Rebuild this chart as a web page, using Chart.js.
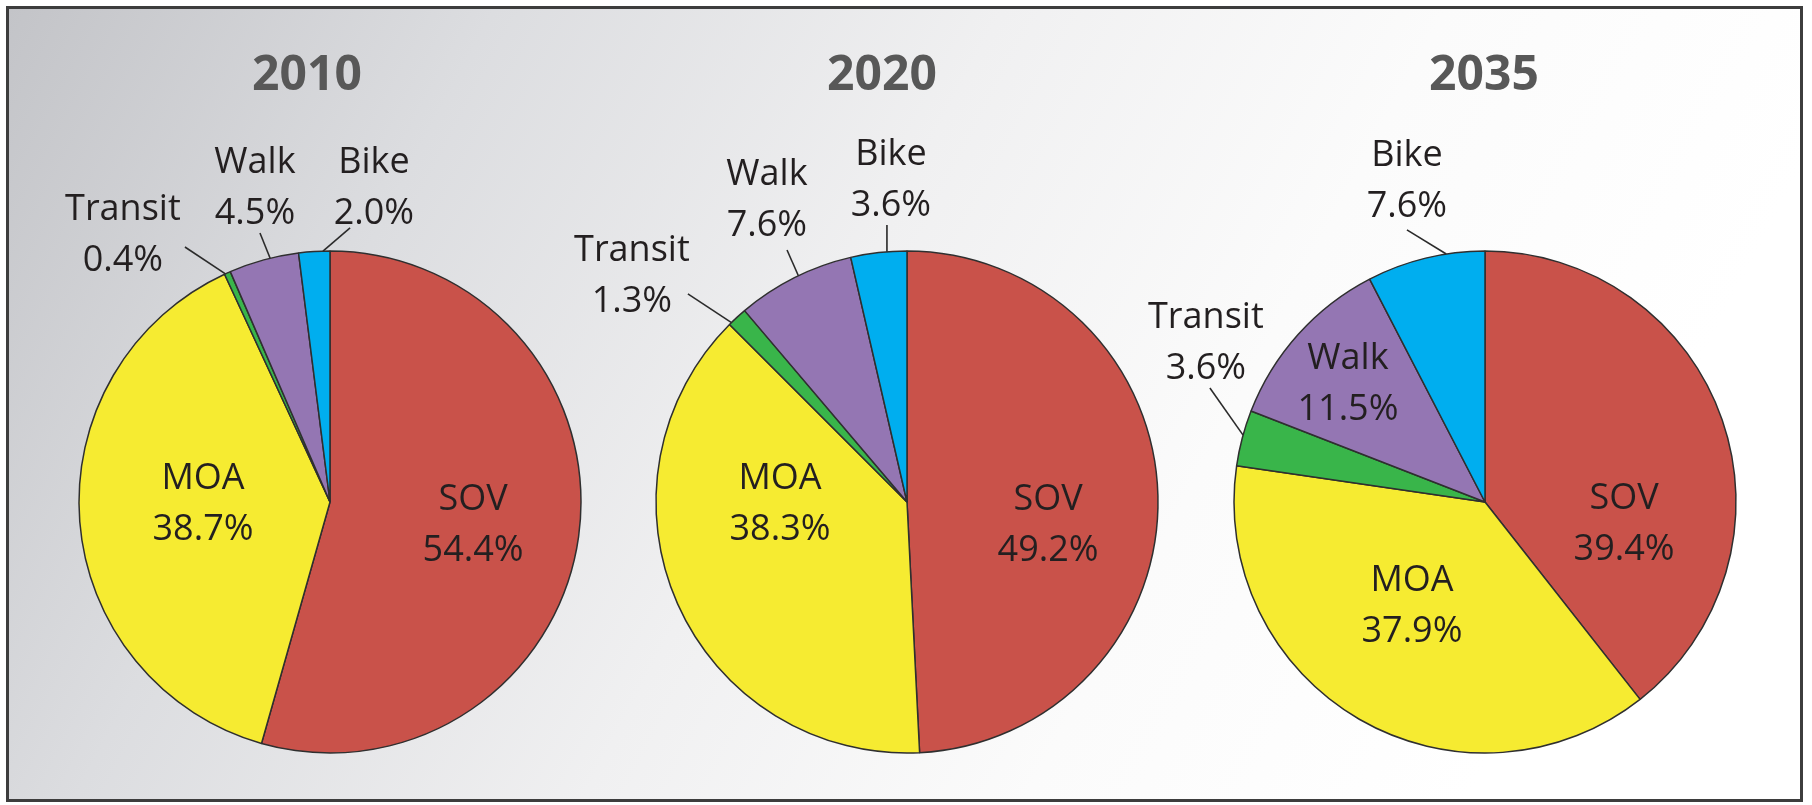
<!DOCTYPE html>
<html>
<head>
<meta charset="utf-8">
<script src="https://cdn.jsdelivr.net/npm/chart.js@4"></script>
<style>
    body
    {
        margin: 0;
        width: 1812px;
        height: 805px;
        background: #ffffff;
        overflow: hidden;
        position: relative;
    }
    #rahmen
    {
        position: absolute;
        left: 6px;
        top: 6px;
        width: 1797px;
        height: 796px;
        box-sizing: border-box;
        border: 3px solid #3d3d3d;
        background: linear-gradient(118deg, #c3c4c8 0%, #dcdde0 22%, #f0f0f1 45%, #fbfbfb 65%, #ffffff 85%);
    }
    canvas
    {
        position: absolute;
        top: 0;
    }
</style>
</head>
<body>
<div id="rahmen"></div>
<canvas id="pie2010" width="720" height="805" style="left:-30px"></canvas>
<canvas id="pie2020" width="720" height="805" style="left:547px"></canvas>
<canvas id="pie2035" width="720" height="805" style="left:1125px"></canvas>

<script>
const modes = ['SOV', 'MOA', 'Transit', 'Walk', 'Bike'];
const years = ['2010', '2020', '2035'];

const share2010 = [54.4, 38.7, 0.4, 4.5, 2.0];
const share2020 = [49.2, 38.3, 1.3, 7.6, 3.6];
const share2035 = [39.4, 37.9, 3.6, 11.5, 7.6];

const modeColors = ['#c9524a', '#f6eb31', '#39b54a', '#9476b3', '#00aeef'];

// label placement, in units of the pie radius, relative to the pie centre
// lx/ly = middle of the two text lines, sx/sy = start of the leader line, ea = shift of the leader end (deg)
const labelLayout =
{
    '2010':
    [
        { lx: 0.570, ly: 0.084 },
        { lx: -0.506, ly: 0.000 },
        { lx: -0.825, ly: -1.072, sx: -0.578, sy: -1.016, ea: -0.5 },
        { lx: -0.299, ly: -1.259, sx: -0.279, sy: -1.072, ea: 1.5 },
        { lx: 0.175, ly: -1.259, sx: 0.080, sy: -1.092, ea: 2.0 }
    ],
    '2020':
    [
        { lx: 0.562, ly: 0.084 },
        { lx: -0.506, ly: 0.000 },
        { lx: -1.096, ly: -0.908, sx: -0.873, sy: -0.829, ea: -1.7 },
        { lx: -0.558, ly: -1.211, sx: -0.478, sy: -1.004, ea: 1.0 },
        { lx: -0.064, ly: -1.291, sx: -0.080, sy: -1.104, ea: 1.9 }
    ],
    '2035':
    [
        { lx: 0.554, ly: 0.080 },
        { lx: -0.291, ly: 0.406 },
        { lx: -1.112, ly: -0.645, sx: -1.096, sy: -0.454, ea: 0.7 },
        { lx: -0.546, ly: -0.478 },
        { lx: -0.311, ly: -1.287, sx: -0.311, sy: -1.084, ea: 4.8 }
    ]
};

const titleShift = { '2010': -23, '2020': -25, '2035': -1 };

const labelPlugin =
{
    id: 'labelPlugin',
    afterDatasetsDraw(chart)
    {
        const ctx = chart.ctx;
        const year = chart.options.plugins.jahr;
        const meta = chart.getDatasetMeta(0);
        const values = chart.data.datasets[0].data;
        const layout = labelLayout[year];

        ctx.save();

        // title
        const first = meta.data[0];
        ctx.fillStyle = '#585858';
        ctx.font = 'bold 48px "Open Sans"';
        ctx.textAlign = 'center';
        ctx.textBaseline = 'alphabetic';
        ctx.fillText(year, first.x + titleShift[year], 90);

        for (let i = 0; i < meta.data.length; i++)
        {
            const arc = meta.data[i];
            const p = arc.getProps(['x', 'y', 'startAngle', 'endAngle', 'outerRadius'], true);
            const r = p.outerRadius;
            const pos = layout[i];

            if (pos.sx !== undefined)
            {
                const mid = (p.startAngle + p.endAngle) / 2 + pos.ea * Math.PI / 180;
                ctx.beginPath();
                ctx.moveTo(p.x + pos.sx * r, p.y + pos.sy * r);
                ctx.lineTo(p.x + Math.cos(mid) * r, p.y + Math.sin(mid) * r);
                ctx.strokeStyle = '#2b2b2b';
                ctx.lineWidth = 1.6;
                ctx.stroke();
            }

            const cx = p.x + pos.lx * r;
            const cy = p.y + pos.ly * r;
            ctx.fillStyle = '#231f20';
            ctx.font = '36px "Open Sans"';
            ctx.fillText(chart.data.labels[i], cx, cy - 12.6);
            ctx.fillText(values[i].toFixed(1) + '%', cx, cy + 38.4);
        }

        ctx.restore();
    }
};

function makePie(year, values)
{
    new Chart(
        document.getElementById('pie' + year),
        {
            type: 'pie',
            data:
            {
                labels: modes,
                datasets:
                [
                    {
                        data: values,
                        backgroundColor: modeColors,
                        borderColor: '#2f2f2f',
                        borderWidth: 1.5
                    }
                ]
            },
            options:
            {
                responsive: false,
                animation: false,
                devicePixelRatio: 1,
                layout: { padding: { top: 250.25, bottom: 51.25, left: 100, right: 100 } },
                plugins:
                {
                    jahr: year,
                    legend: { display: false },
                    tooltip: { enabled: false }
                }
            },
            plugins: [labelPlugin]
        }
    );
}

makePie(years[0], share2010);
makePie(years[1], share2020);
makePie(years[2], share2035);
</script>
</body>
</html>
